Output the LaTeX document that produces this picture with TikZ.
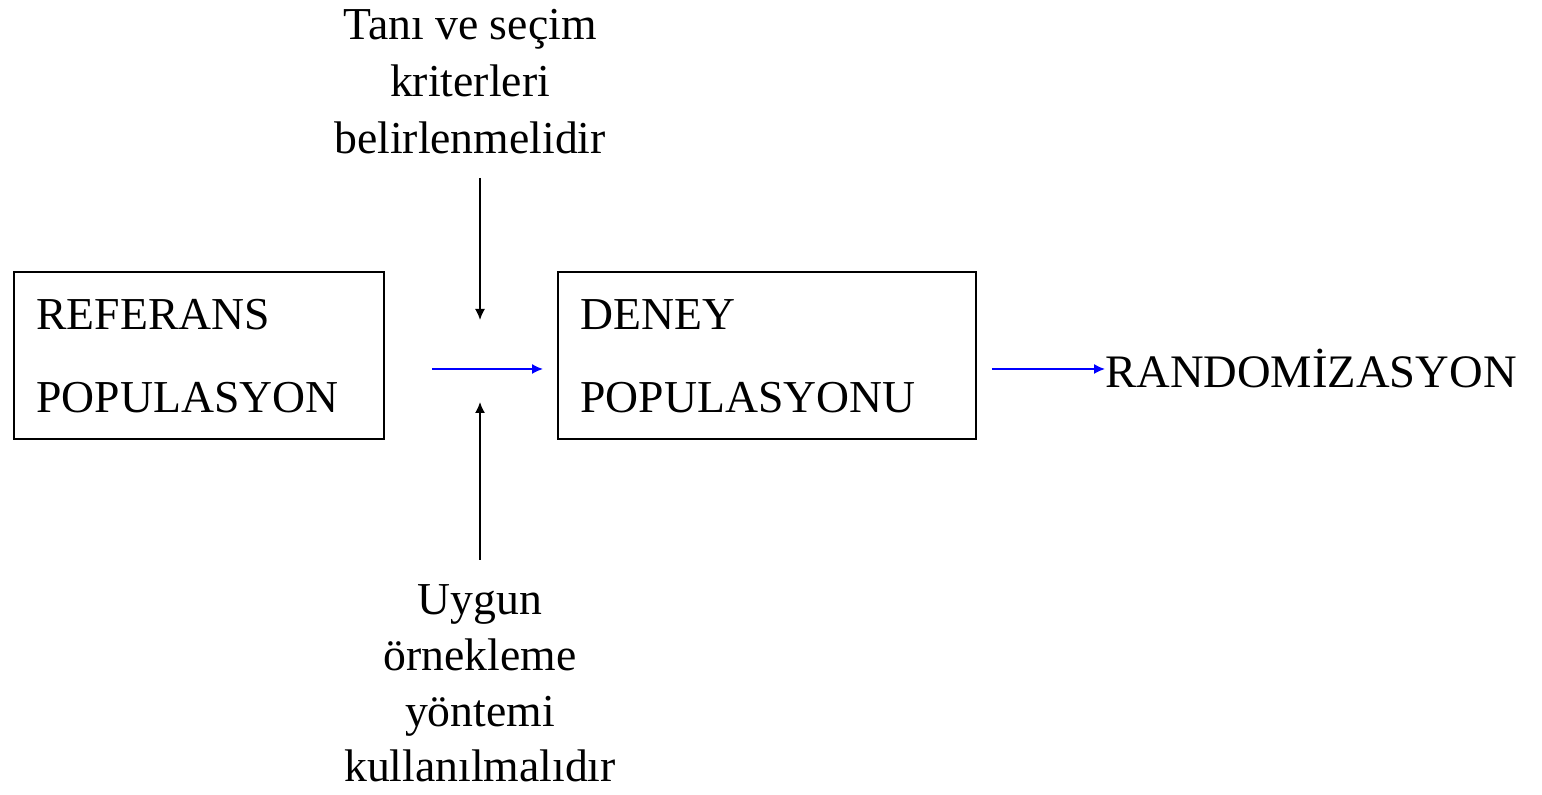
\documentclass[tikz,border=0pt]{standalone}
\usepackage{fontspec}
\setmainfont{Liberation Serif}
\usetikzlibrary{positioning,calc}
\usetikzlibrary{arrows.meta}
\definecolor{FlowBlue}{RGB}{0,0,255}
\tikzset{
	big/.style={font=\fontsize{26}{32.4}\selectfont,inner sep=0pt},
	popbox/.style={draw=black,line width=1.1pt,minimum height=3.34cm,inner sep=0pt},
	boxline/.style={big,anchor=base west},
	note/.style={big,align=center,anchor=north},
	arr/.style={draw=black,line width=0.9pt,-{Latex[length=0.22cm,width=0.2cm]}},
	flow/.style={draw=FlowBlue,line width=0.9pt,-{Latex[length=0.22cm,width=0.2cm]}},
}
\begin{document}
\begin{tikzpicture}
	\useasboundingbox (0,0) rectangle (30.84,15.88);
	% the two populations
	\node[popbox,minimum width=7.4cm] (ref) at (3.98,8.77) {};
	\node[popbox,minimum width=8.36cm] (deney) at (15.34,8.77) {};
	\node[boxline] (refa) at (0.72,9.28) {REFERANS};
	\node[boxline] (refb) at (0.72,7.62) {POPULASYON};
	\node[boxline] (deneya) at (11.6,9.28) {DENEY};
	\node[boxline] (deneyb) at (11.6,7.62) {POPULASYONU};
	\node[big,anchor=west,font=\fontsize{26.5}{32}\selectfont] (rand) at (22.1,8.5) {RANDOMİZASYON};
	% notes above and below the gap
	\node[note] (tani) at (9.4,15.7) {Tanı ve seçim\\kriterleri\\belirlenmelidir};
	\node[note,font=\fontsize{26}{31.8}\selectfont] (uygun) at (9.6,4.2) {Uygun\\örnekleme\\yöntemi\\kullanılmalıdır};
	\coordinate (gapin) at (8.64,8.5);
	\coordinate (gapout) at (10.86,8.5);
	\coordinate (topend) at (9.6,9.48);
	\coordinate (topstart) at (9.6,12.32);
	\coordinate (botend) at (9.6,7.84);
	\coordinate (botstart) at (9.6,4.68);
	\draw[arr] (topstart) -- (topend);
	\draw[arr] (botstart) -- (botend);
	\draw[flow] (gapin) -- (gapout);
	\draw[flow,shorten <=0.3cm] (deney.east |- rand.west) -- (rand.west);
\end{tikzpicture}
\end{document}
